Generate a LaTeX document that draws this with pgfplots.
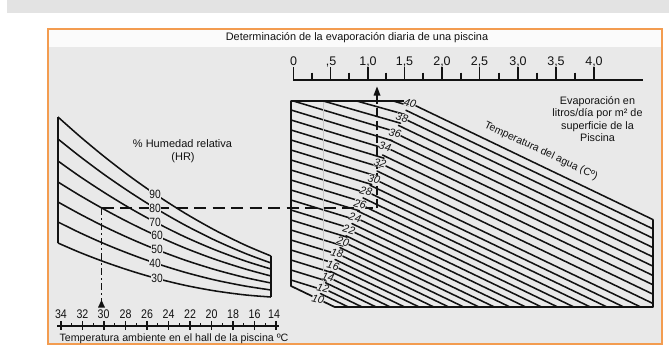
\documentclass[border=0pt]{standalone}
\usepackage{fontspec}
\setmainfont{Liberation Sans}
\newfontfamily\cond[FakeStretch=0.85]{Liberation Sans}
\usepackage{pgfplots}
\pgfplotsset{compat=1.18}
\definecolor{band}{RGB}{227,227,227}
\definecolor{panel}{RGB}{233,233,233}
\definecolor{titlebg}{RGB}{251,251,251}
\definecolor{orng}{RGB}{243,156,80}
\definecolor{ink}{RGB}{18,18,18}
\definecolor{faint}{RGB}{200,200,200}
\newcommand{\fs}[1]{\fontsize{#1}{#1}\selectfont}
\tikzset{
  hatch/.style={ink, line width=1.55pt, line cap=round},
  deg/.style={font=\itshape\fs{10.8}, fill=panel, inner sep=0pt, rotate=-15, text=ink},
  hr/.style={font=\cond\fs{12}, fill=panel, inner sep=0.6pt, text=ink},
}
\begin{document}
\begin{tikzpicture}
\begin{axis}[
  width=669pt, height=360pt, scale only axis,
  xmin=0, xmax=669, ymin=0, ymax=360, y dir=reverse,
  axis lines=none, clip=false, unbounded coords=jump,
]
% ---------------- backgrounds
\addplot[fill=white, draw=none] coordinates {(0,0) (669,0) (669,360) (0,360)} -- cycle;
\addplot[fill=band, draw=none] coordinates {(7,0) (669,0) (669,13) (7,13)} -- cycle;
\addplot[fill=panel, draw=none] coordinates {(48,29) (662,29) (662,344) (48,344)} -- cycle;
\addplot[fill=titlebg, draw=none] coordinates {(48,29) (662,29) (662,46.5) (48,46.5)} -- cycle;
\addplot[draw=orng, line width=1.5pt] coordinates {(48,29) (662,29) (662,344) (48,344)} -- cycle;

% ---------------- right panel: left-part lines
\addplot[hatch] coordinates {
(393.3,101) (408.7,105.6) (nan,nan)
(356.7,101) (404.6,114.4) (nan,nan)
(323.3,101) (400.5,123.2) (nan,nan)
(293.3,101) (396.4,131.9) (nan,nan)
(291,110) (392.2,140.7) (nan,nan)
(291,120) (388.1,149.5) (nan,nan)
(291,130) (384.0,158.2) (nan,nan)
(291,140) (379.9,167.0) (nan,nan)
(291,150) (375.8,175.8) (nan,nan)
(291,160) (371.7,184.5) (nan,nan)
(291,170) (367.6,193.3) (nan,nan)
(291,180) (363.4,202.1) (nan,nan)
(291,190) (359.4,210.8) (nan,nan)
(291,200) (355.2,219.6) (nan,nan)
(291,210) (351.1,228.4) (nan,nan)
(291,220) (347.0,237.1) (nan,nan)
(291,230) (342.9,245.9) (nan,nan)
(291,240) (338.8,254.6) (nan,nan)
(291,250) (334.7,263.4) (nan,nan)
(291,260) (330.6,272.2) (nan,nan)
(291,270) (326.5,280.9) (nan,nan)
(291,280) (322.4,289.7)
};
% ---------------- right panel: water temperature lines 11..40
\addplot[hatch] coordinates {
(320.5,293.6) (348.35,307) (nan,nan)
(323,288.2) (362.17,307) (nan,nan)
(325.5,282.7) (376.16,307) (nan,nan)
(328,277.1) (390.33,307) (nan,nan)
(330.5,271.4) (404.68,307) (nan,nan)
(333,265.6) (419.19,307) (nan,nan)
(335,259.5) (433.88,307) (nan,nan)
(337,253.4) (448.75,307) (nan,nan)
(340,247.6) (463.79,307) (nan,nan)
(343,241.7) (479,307) (nan,nan)
(346,235.8) (494.39,307) (nan,nan)
(349,229.7) (509.95,307) (nan,nan)
(352,223.6) (525.68,307) (nan,nan)
(355,217.4) (541.59,307) (nan,nan)
(357.5,210.9) (557.68,307) (nan,nan)
(360,204.3) (573.93,307) (nan,nan)
(363,197.9) (590.36,307) (nan,nan)
(366,191.3) (606.97,307) (nan,nan)
(370,185.2) (623.75,307) (nan,nan)
(374,179.0) (640.7,307) (nan,nan)
(377,171.0) (653,303.5) (nan,nan)
(380,163.2) (653,294.2) (nan,nan)
(382.5,155.0) (653,284.8) (nan,nan)
(385,146.9) (653,275.5) (nan,nan)
(390,140.0) (653,266.2) (nan,nan)
(395,133.1) (653,256.9) (nan,nan)
(398.5,125.4) (653,247.6) (nan,nan)
(402,117.7) (653,238.2) (nan,nan)
(406,110.3) (653,228.9) (nan,nan)
(410,103.0) (653,219.6)
};
% faint guide
\addplot[faint, line width=0.6pt] coordinates {(323,101) (323,292)};
% outline of the right panel
\addplot[ink, line width=1.7pt, line join=round] coordinates {(404,101) (291,101) (291,286) (334.7,307) (653,307) (653,219.6)};

% ---------------- top scale (evaporation)
\addplot[ink, line width=1.7pt] coordinates {(293,80) (643,80)};
\addplot[ink, line width=1.5pt] coordinates {
(293.5,67) (293.5,80) (nan,nan) (330.5,67) (330.5,80) (nan,nan)
(368,67) (368,80) (nan,nan) (404.5,67) (404.5,80) (nan,nan)
(442,67) (442,80) (nan,nan) (479.5,67) (479.5,80) (nan,nan)
(518,67) (518,80) (nan,nan) (556,67) (556,80) (nan,nan)
(594,67) (594,80) (nan,nan)
(312,72.5) (312,80) (nan,nan) (349,72.5) (349,80) (nan,nan)
(386,72.5) (386,80) (nan,nan) (423,72.5) (423,80) (nan,nan)
(461,72.5) (461,80) (nan,nan) (499,72.5) (499,80) (nan,nan)
(537,72.5) (537,80) (nan,nan) (575,72.5) (575,80)
};
\node[font=\fs{12.5}, text=ink] at (axis cs:293.5,61.5) {0};
\node[font=\fs{12.5}, text=ink] at (axis cs:331,61.5) {,5};
\node[font=\fs{12.5}, text=ink] at (axis cs:368,61.5) {1,0};
\node[font=\fs{12.5}, text=ink] at (axis cs:404.5,61.5) {1,5};
\node[font=\fs{12.5}, text=ink] at (axis cs:442,61.5) {2,0};
\node[font=\fs{12.5}, text=ink] at (axis cs:479.5,61.5) {2,5};
\node[font=\fs{12.5}, text=ink] at (axis cs:518,61.5) {3,0};
\node[font=\fs{12.5}, text=ink] at (axis cs:556,61.5) {3,5};
\node[font=\fs{12.5}, text=ink] at (axis cs:594,61.5) {4,0};

% ---------------- left panel: relative humidity curves
\addplot[ink, line width=1.55pt, smooth] coordinates {(58,117) (80,136.5) (105,157.2) (130,176.4) (155,194.0) (185,213.2) (215,230.2) (245,245.0) (271,256.0)};
\addplot[ink, line width=1.55pt, smooth] coordinates {(58,139) (80,156.5) (105,175.1) (130,192.2) (155,208.0) (185,225.1) (215,240.2) (245,253.3) (271,263.0)};
\addplot[ink, line width=1.55pt, smooth] coordinates {(58,161) (80,176.6) (105,193.0) (130,208.2) (155,222.0) (185,236.9) (215,249.8) (245,260.9) (271,269.0)};
\addplot[ink, line width=1.55pt, smooth] coordinates {(58,182) (80,195.5) (105,209.8) (130,223.0) (155,235.0) (185,248.0) (215,259.3) (245,268.9) (271,276.0)};
\addplot[ink, line width=1.55pt, smooth] coordinates {(58,202) (80,214.1) (105,226.9) (130,238.5) (155,249.0) (185,260.1) (215,269.6) (245,277.5) (271,283.0)};
\addplot[ink, line width=1.55pt, smooth] coordinates {(58,222) (80,232.8) (105,244.0) (130,254.0) (155,263.0) (185,272.3) (215,280.0) (245,286.0) (271,290.0)};
\addplot[ink, line width=1.55pt, smooth] coordinates {(58,243) (80,252.5) (105,262.1) (130,270.6) (155,278.0) (185,285.3) (215,290.9) (245,294.9) (271,297.0)};
\addplot[ink, line width=1.7pt] coordinates {(58,117) (58,243) (nan,nan) (271,256) (271,297)};

% ---------------- bottom scale (air temperature)
\addplot[ink, line width=1.6pt] coordinates {(57,326) (279,326)};
\addplot[ink, line width=1.4pt] coordinates {
(61,321) (61,330) (nan,nan) (82.5,321) (82.5,330) (nan,nan)
(104,321) (104,330) (nan,nan) (125.5,321) (125.5,330) (nan,nan)
(147,321) (147,330) (nan,nan) (168.5,321) (168.5,330) (nan,nan)
(190,321) (190,330) (nan,nan) (211.5,321) (211.5,330) (nan,nan)
(233,321) (233,330) (nan,nan) (254.5,321) (254.5,330) (nan,nan)
(276,321) (276,330) (nan,nan)
(71.75,323) (71.75,326) (nan,nan) (93.25,323) (93.25,326) (nan,nan)
(114.75,323) (114.75,326) (nan,nan) (136.25,323) (136.25,326) (nan,nan)
(157.75,323) (157.75,326) (nan,nan) (179.25,323) (179.25,326) (nan,nan)
(200.75,323) (200.75,326) (nan,nan) (222.25,323) (222.25,326) (nan,nan)
(243.75,323) (243.75,326) (nan,nan) (265.25,323) (265.25,326)
};
\node[font=\cond\fs{12.5}, text=ink] at (axis cs:61,314) {34};
\node[font=\cond\fs{12.5}, text=ink] at (axis cs:82.5,314) {32};
\node[font=\cond\fs{12.5}, text=ink] at (axis cs:103.5,314) {30};
\node[font=\cond\fs{12.5}, text=ink] at (axis cs:125.5,314) {28};
\node[font=\cond\fs{12.5}, text=ink] at (axis cs:147,314) {26};
\node[font=\cond\fs{12.5}, text=ink] at (axis cs:168.5,314) {24};
\node[font=\cond\fs{12.5}, text=ink] at (axis cs:190,314) {22};
\node[font=\cond\fs{12.5}, text=ink] at (axis cs:211.5,314) {20};
\node[font=\cond\fs{12.5}, text=ink] at (axis cs:233,314) {18};
\node[font=\cond\fs{12.5}, text=ink] at (axis cs:254.5,314) {16};
\node[font=\cond\fs{12.5}, text=ink] at (axis cs:274,314) {14};

% ---------------- reading example (dashed)
\addplot[ink, line width=1.6pt, dash pattern=on 7pt off 3pt on 2pt off 3pt] coordinates {(101.5,208) (101.5,302)};
\addplot[ink, line width=1.6pt, dash pattern=on 12pt off 6.5pt] coordinates {(101.5,208) (377,208)};
\addplot[ink, line width=1.6pt, dash pattern=on 9pt off 4pt] coordinates {(377,208) (377,94)};
\addplot[fill=ink, draw=none] coordinates {(101.5,300) (98,307.5) (105,307.5)} -- cycle;
\addplot[fill=ink, draw=none] coordinates {(377,86.5) (373.5,95.5) (380.5,95.5)} -- cycle;

% ---------------- curve labels
\node[hr] at (axis cs:155,194) {90};
\node[hr] at (axis cs:155,208) {80};
\node[hr] at (axis cs:155,222) {70};
\node[hr] at (axis cs:157,235) {60};
\node[hr] at (axis cs:157,249) {50};
\node[hr] at (axis cs:155,263) {40};
\node[hr] at (axis cs:157,278) {30};

\node[deg] at (axis cs:318,299) {10};
\node[deg] at (axis cs:323,288.2) {12};
\node[deg] at (axis cs:328,277.1) {14};
\node[deg] at (axis cs:333,265.6) {16};
\node[deg] at (axis cs:337,253.4) {18};
\node[deg] at (axis cs:343,241.7) {20};
\node[deg] at (axis cs:349,229.7) {22};
\node[deg] at (axis cs:355,217.4) {24};
\node[deg] at (axis cs:360,204.3) {26};
\node[deg] at (axis cs:366,191.3) {28};
\node[deg] at (axis cs:374,179.0) {30};
\node[deg] at (axis cs:380,163.2) {32};
\node[deg] at (axis cs:385,146.9) {34};
\node[deg] at (axis cs:395,133.1) {36};
\node[deg] at (axis cs:402,117.7) {38};
\node[deg] at (axis cs:410,103.0) {40};

% ---------------- texts
\node[font=\fs{10.9}, text=ink] at (axis cs:357,38) {Determinación de la evaporación diaria de una piscina};
\node[font=\fs{11}, text=ink] at (axis cs:182.5,144) {\% Humedad relativa};
\node[font=\fs{11}, text=ink] at (axis cs:183,158) {(HR)};
\node[font=\fontsize{10.8}{12.6}\selectfont, text=ink, align=center] at (axis cs:597.5,119) {Evaporación en\\litros/día por m² de\\superficie de la\\Piscina};
\node[font=\fs{10.5}, text=ink, rotate=-25] at (axis cs:541,151) {Temperatura del agua (Cº)};
\node[font=\fs{10.65}, text=ink] at (axis cs:174,338.5) {Temperatura ambiente en el hall de la piscina ºC};
\end{axis}
\end{tikzpicture}
\end{document}
